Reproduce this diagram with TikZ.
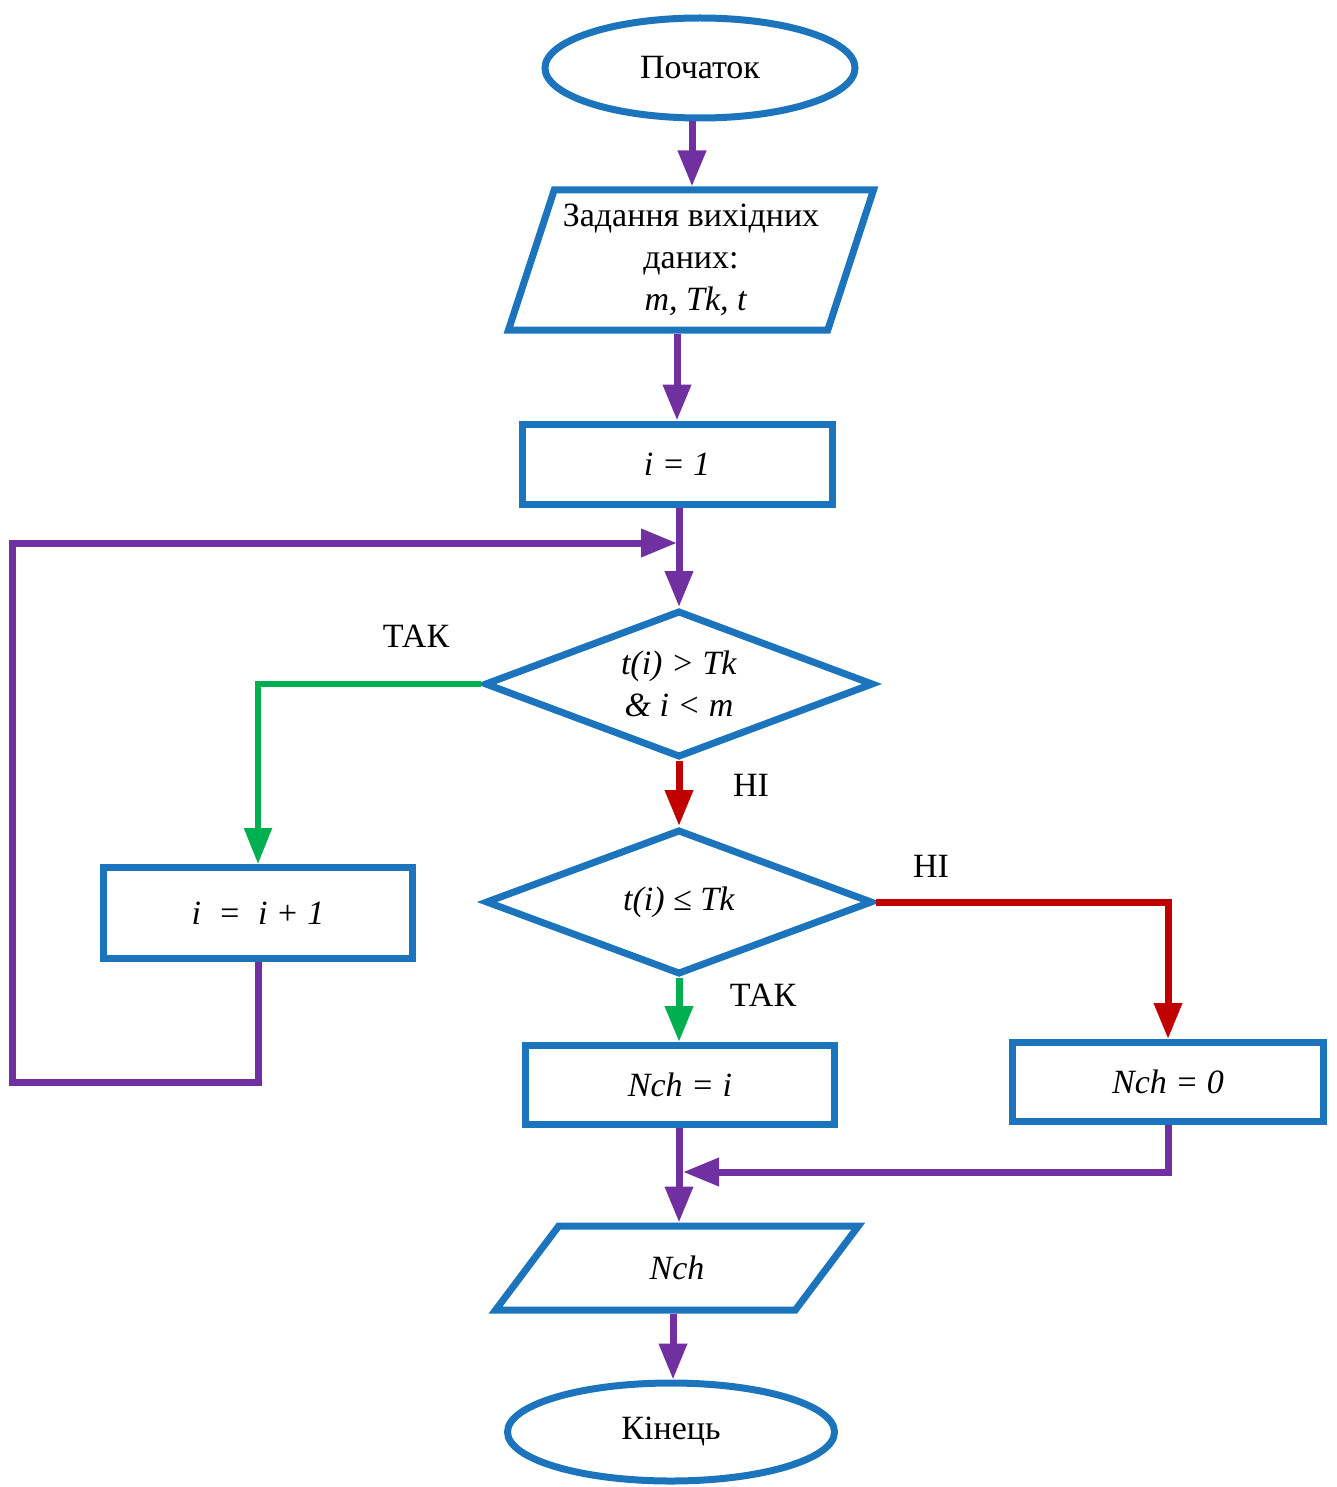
\documentclass[tikz,border=0pt]{standalone}
\usepackage{fontspec}
\setmainfont{Liberation Serif}
\usetikzlibrary{arrows.meta,shapes.geometric,calc}

\definecolor{cblue}{RGB}{28,117,188}
\definecolor{cpurple}{RGB}{112,48,160}
\definecolor{cgreen}{RGB}{0,176,80}
\definecolor{cred}{RGB}{192,0,0}
\newcommand\fcfont{\fontsize{34}{42}\selectfont}

\tikzset{
  shp/.style={draw=cblue, line width=7pt, fill=white, font=\fcfont, inner sep=0pt, align=center},
  term/.style={shp, ellipse},
  proc/.style={shp, rectangle},
  dec/.style={shp, diamond, aspect=2.65},
  io/.style={shp, trapezium, trapezium stretches=true},
  flow/.style={line width=7pt, -{Triangle[length=36pt,width=27pt]}},
  lbl/.style={font=\fcfont, inner sep=0pt}
}

\begin{document}
\begin{tikzpicture}[x=1pt,y=-1pt]
\useasboundingbox (0,0) rectangle (1336,1487);
\fill[white] (0,0) rectangle (1336,1487);

% blocks
\node[term, minimum width=310, minimum height=100] (start) at (700,68) {Початок};
\node[io, trapezium left angle=69, trapezium right angle=111,
      minimum width=366, minimum height=140] (inp) at (691,260)
      {Задання вихідних\\даних:\\\hspace*{10pt}\textit{m, Tk, t}};
\node[proc, minimum width=310, minimum height=80] (init) at (677,464) {\textit{i = 1}};
\node[dec, minimum width=389, minimum height=147] (cond1) at (679,684)
      {\textit{t(i) > Tk}\\\textit{\& i < m}};
\node[proc, minimum width=309, minimum height=91] (incr) at (258,913) {\textit{i\ \ =\ \ i + 1}};
\node[dec, minimum width=387, minimum height=145] (cond2) at (679,902) {\textit{t(i) ≤ Tk}};
\node[proc, minimum width=309, minimum height=79] (seti) at (680,1085) {\textit{Nch = i}};
\node[proc, minimum width=311, minimum height=79] (setz) at (1168,1082) {\textit{Nch = 0}};
\node[io, trapezium left angle=58.6, trapezium right angle=121.4,
      minimum width=363, minimum height=84] (outp) at (677,1268) {\textit{Nch}};
\node[term, minimum width=327, minimum height=98] (stop) at (671,1432) {Кінець};

% branch labels
\node[lbl] (yes1) at (416,636) {ТАК};
\node[lbl] (no1) at (751,785) {НІ};
\node[lbl] (no2) at (931,866) {НІ};
\node[lbl] (yes2) at (763,995) {ТАК};

% junction points
\coordinate (m1) at (677,543);
\coordinate (lb) at (12,1082);
\coordinate (m2) at (683,1172);

% connectors
\draw[flow, cpurple] (start.south -| 692,0) -- (inp.north -| 692,0);
\draw[flow, cpurple] (inp.south -| init.north) -- (init.north);
\draw[flow, cpurple] (init.south -| cond1.north) -- (cond1.north);
\draw[flow, cpurple] (incr.south) |- (lb) |- (m1);
\draw[flow, cgreen, line width=5.5pt] (cond1.west) -| (incr.north);
\draw[flow, cred] (cond1.south) -- (cond2.north);
\draw[flow, cred] (cond2.east) -| (setz.north);
\draw[flow, cgreen] (cond2.south) -- (seti.north -| cond2.south);
\draw[flow, cpurple] (seti.south -| 679,0) -- (outp.north -| 679,0);
\draw[flow, cpurple] (setz.south) |- (m2);
\draw[flow, cpurple] (outp.south -| 673,0) -- (stop.north -| 673,0);
\end{tikzpicture}
\end{document}
